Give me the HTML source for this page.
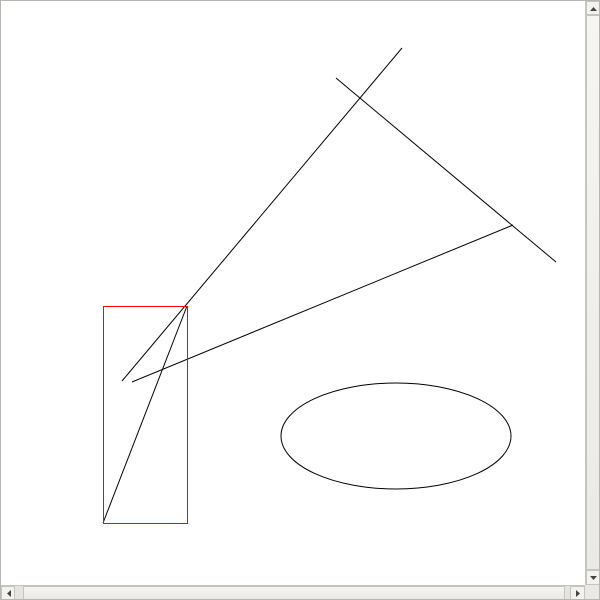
<!DOCTYPE html>
<html><head><style>
html,body{margin:0;padding:0;background:#fff;}
#frame{position:absolute;left:0;top:0;width:598px;height:598px;border:1px solid #b8b6b2;overflow:hidden;}
.sb{position:absolute;background:#e6e4e0;}
.btn{position:absolute;background:#f3f2ef;border:1px solid #c6c4bf;box-sizing:border-box;}
.thumb{position:absolute;background:linear-gradient(#f6f5f2,#ebe9e5);border:1px solid #c6c4bf;box-sizing:border-box;}
</style></head><body>
<div id="frame">
<svg width="584" height="584" style="position:absolute;left:0;top:0">
<line x1="121" y1="380" x2="401" y2="47" stroke="#000"/>
<line x1="335" y1="77" x2="555" y2="261" stroke="#000"/>
<line x1="131" y1="381" x2="512" y2="224" stroke="#000"/>
<line x1="102" y1="522" x2="186" y2="305" stroke="#000"/>
<ellipse cx="395" cy="435" rx="115" ry="53" fill="none" stroke="#000"/>
</svg>
<div style="position:absolute;left:102px;top:305px;width:83px;height:216px;border:1px solid #ff0000"></div>
<div class="sb" style="left:584px;top:0;width:14px;height:584px;border-left:1px solid #c6c4bf">
 <div class="btn" style="left:0;top:0;width:14px;height:14px"><svg width="14" height="14"><polygon points="3,9 10,9 6.5,5" fill="#444"/></svg></div>
 <div class="thumb" style="left:0;top:14px;width:14px;height:555px"></div>
 <div class="btn" style="left:0;top:569px;width:14px;height:15px"><svg width="14" height="14"><polygon points="3,5 10,5 6.5,9" fill="#444"/></svg></div>
</div>
<div class="sb" style="left:0;top:584px;width:584px;height:14px;border-top:1px solid #c6c4bf">
 <div class="btn" style="left:0;top:0;width:14px;height:14px"><svg width="14" height="14"><polygon points="9,3 9,10 5,6.5" fill="#444"/></svg></div>
 <div class="thumb" style="left:22px;top:0;width:542px;height:14px"></div>
 <div class="btn" style="left:569px;top:0;width:15px;height:14px"><svg width="14" height="14"><polygon points="5,3 5,10 9,6.5" fill="#444"/></svg></div>
</div>
<div style="position:absolute;left:584px;top:584px;width:14px;height:14px;background:#ebe9e5"></div>
</div>
</body></html>
